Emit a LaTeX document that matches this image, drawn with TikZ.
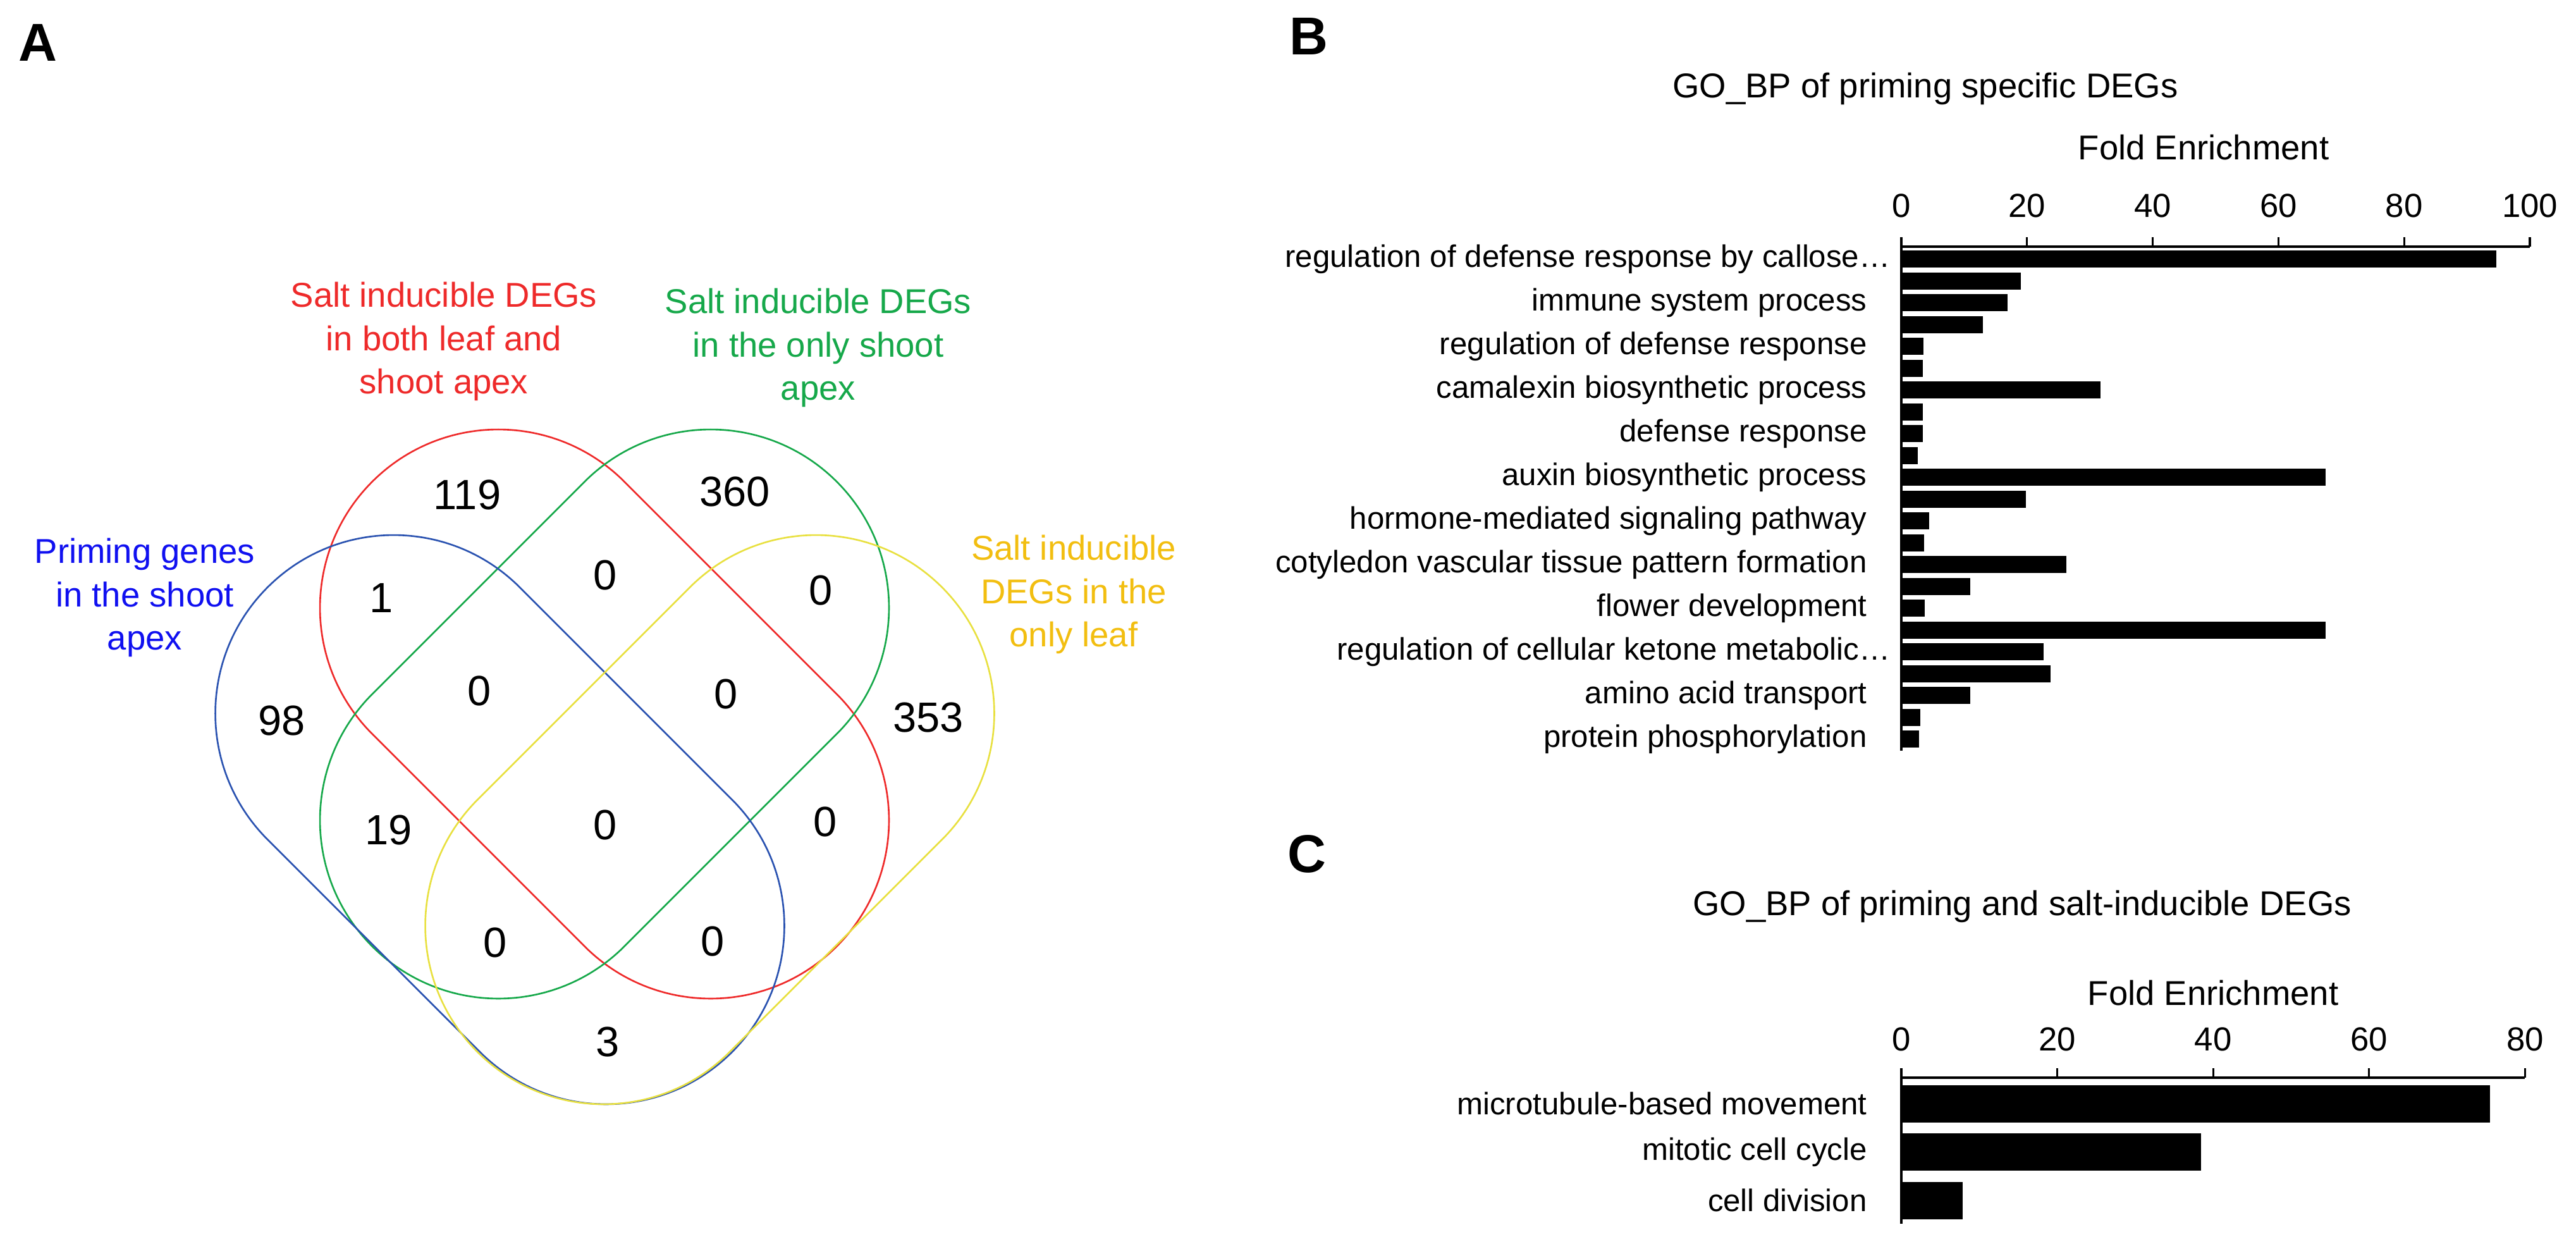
\documentclass[tikz,border=0pt]{standalone}
\usepackage{fontspec}
\setmainfont{Liberation Sans}
\usepackage{xcolor}
\usepackage{tikz}
\usetikzlibrary{positioning}

\definecolor{vred}{HTML}{EE2A2A}
\definecolor{vgreen}{HTML}{16A84A}
\definecolor{vblue}{HTML}{2A52B0}
\definecolor{vyellow}{HTML}{E8E040}
\definecolor{tblue}{HTML}{1010F0}
\definecolor{tyellow}{HTML}{F2BE10}

\tikzset{
  set/.style={line width=0.75pt},
  count/.style={font=\fontsize{19}{22}\selectfont},
  setlabel/.style={align=center, font=\fontsize{15.5}{19.5}\selectfont},
  panel/.style={font=\fontsize{24}{28}\selectfont\bfseries},
  term/.style={anchor=east, font=\fontsize{14}{16}\selectfont},
  tick/.style={font=\fontsize{15}{18}\selectfont},
  title/.style={font=\fontsize{15.5}{18}\selectfont},
  axis/.style={line width=0.9pt},
}

% stadium: colour, centre x, centre y, rotation
\newcommand\stadium[4]{%
  \draw[set, #1, shift={(#2,#3)}, rotate=#4]
    (2.82,-2.375) -- (2.82,2.375) arc[start angle=0, end angle=180, radius=2.82]
    -- (-2.82,-2.375) arc[start angle=180, end angle=360, radius=2.82] -- cycle;}

\begin{document}
\begin{tikzpicture}
  \useasboundingbox (0,0) rectangle (40.74,-19.66);

  % panel A: venn
  \node[panel] (pa) at (0.6,-0.67) {A};
  \stadium{vred}{9.56}{-11.29}{45}
  \stadium{vgreen}{9.56}{-11.29}{-45}
  \stadium{vblue}{7.905}{-12.96}{45}
  \stadium{vyellow}{11.225}{-12.96}{-45}

  \node[setlabel, text=vred] (lred) at (7.02,-5.40) {Salt inducible DEGs\\in both leaf and\\shoot apex};
  \node[setlabel, text=vgreen] (lgreen) at (12.94,-5.50) {Salt inducible DEGs\\in the only shoot\\apex};
  \node[setlabel, text=tblue] (lblue) at (2.29,-9.45) {Priming genes\\in the shoot\\apex};
  \node[setlabel, text=tyellow] (lyellow) at (16.98,-9.40) {Salt inducible\\DEGs in the\\only leaf};

  \node[count] (n119) at (7.39,-7.83) {119};
  \node[count] (n360) at (11.62,-7.78) {360};
  \node[count] (n1) at (6.03,-9.46) {1};
  \node[count] (nrg) at (9.57,-9.09) {0};
  \node[count] (ngy) at (12.98,-9.34) {0};
  \node[count] (n98) at (4.46,-11.39) {98};
  \node[count] (nrgb) at (7.58,-10.92) {0};
  \node[count] (nrgy) at (11.48,-10.97) {0};
  \node[count] (n353) at (14.68,-11.34) {353};
  \node[count] (n19) at (6.15,-13.12) {19};
  \node[count] (nall) at (9.57,-13.04) {0};
  \node[count] (nry) at (13.05,-12.99) {0};
  \node[count] (ngby) at (7.83,-14.90) {0};
  \node[count] (nrby) at (11.27,-14.88) {0};
  \node[count] (n3) at (9.61,-16.47) {3};

  % panel B
  \node[panel] (pb) at (20.70,-0.57) {B};
  \node[title] (tb) at (30.45,-1.40) {GO\_BP of priming specific DEGs};
  \node[title] (xb) at (34.85,-2.33) {Fold Enrichment};
  \foreach \t in {0,20,...,100} {
    \draw[axis] (30.07+\t*0.0994,-3.90) -- ++(0,0.15);
    \node[tick] at (30.07+\t*0.0994,-3.25) {\t};
  }
  \draw[axis] (30.07,-3.90) -- (40.01,-3.90);
  \foreach \v [count=\i from 0] in {94.7,19,16.9,13,3.5,3.4,31.7,3.4,3.4,2.6,67.5,19.8,4.4,3.6,26.3,11,3.7,67.5,22.6,23.7,11,3,2.8}
    \fill (30.07,-3.96-0.345*\i) rectangle ++(\v*0.0994,-0.27);
  \draw[axis] (30.07,-3.90) -- (30.07,-11.87);
  \foreach \s [count=\i from 0] in {immune system process, regulation of defense response,
      camalexin biosynthetic process, defense response, auxin biosynthetic process,
      hormone-mediated signaling pathway, cotyledon vascular tissue pattern formation,
      flower development, amino acid transport, protein phosphorylation}
    \node[term] at (29.65,{-4.785-0.69*(\i<8 ? \i : \i+1) - 0.69*(\i<8 ? 0 : 0)}) {\s};
  \node[term] (tcal) at (30.02,-4.095) {regulation of defense response by callose\ldots};
  \node[term] (tket) at (30.02,-10.305) {regulation of cellular ketone metabolic\ldots};

  % panel C
  \node[panel] (pc) at (20.67,-13.50) {C};
  \node[title] (tc) at (31.98,-14.33) {GO\_BP of priming and salt-inducible DEGs};
  \node[title] (xc) at (35.00,-15.70) {Fold Enrichment};
  \foreach \t in {0,20,...,80} {
    \draw[axis] (30.07+\t*0.1233,-17.04) -- ++(0,0.15);
    \node[tick] at (30.07+\t*0.1233,-16.43) {\t};
  }
  \draw[axis] (30.07,-17.04) -- (39.93,-17.04);
  \foreach \v/\s [count=\i from 0] in {75.5/microtubule-based movement, 38.4/mitotic cell cycle, 7.9/cell division} {
    \fill (30.07,-17.155-0.765*\i) rectangle ++(\v*0.1233,-0.59);
    \node[term] at (29.65,-17.45-0.765*\i) {\s};
  }
  \draw[axis] (30.07,-17.04) -- (30.07,-19.35);
\end{tikzpicture}
\end{document}
